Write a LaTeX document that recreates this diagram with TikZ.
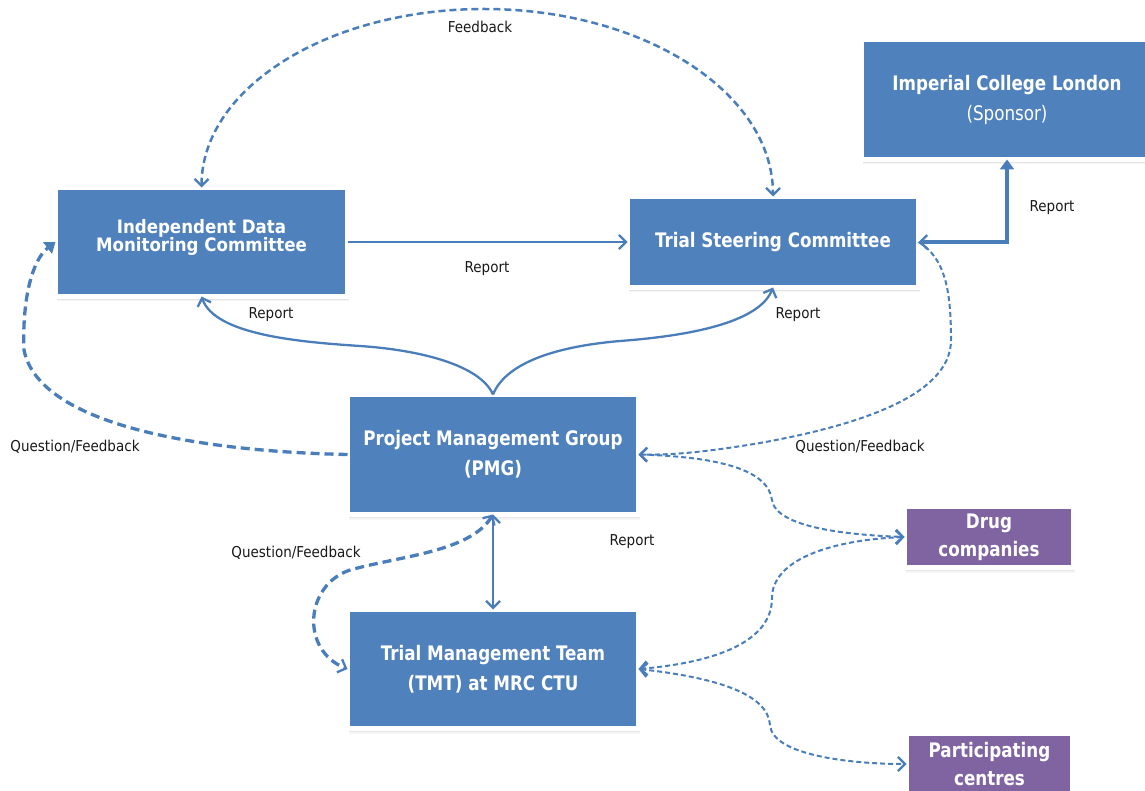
\documentclass[tikz,border=0pt]{standalone}
\usepackage{fontspec}
\setmainfont{DejaVu Sans Condensed}[BoldFont={DejaVu Sans Condensed Bold}]
\newfontfamily\bxfont{DejaVu Sans Condensed Bold}[FakeStretch=0.93]
\newfontfamily\bxwfont{DejaVu Sans Condensed Bold}
\newfontfamily\rgfont{DejaVu Sans Condensed}[FakeStretch=0.93]
\newfontfamily\lbfont{DejaVu Sans Condensed}
\usetikzlibrary{arrows.meta,shadows}
\definecolor{boxblue}{HTML}{4F81BD}
\definecolor{boxpurple}{HTML}{8064A2}
\definecolor{linkblue}{HTML}{4A7EBB}
\begin{document}
\begin{tikzpicture}[x=1pt,y=-1pt,
  box/.style={draw=white, line width=5pt, fill=boxblue, inner sep=0pt, outer sep=0pt,
    align=center, text=white, font=\bxfont\fontsize{20}{30}\selectfont,
    drop shadow={shadow xshift=1.5pt, shadow yshift=-5pt, opacity=0.08},
    drop shadow={shadow xshift=1pt, shadow yshift=-3.8pt, opacity=0.14},
    drop shadow={shadow xshift=0pt, shadow yshift=-0.5pt, shadow scale=1.012, opacity=0.08}},
  pbox/.style={box, fill=boxpurple, font=\bxfont\fontsize{20}{28}\selectfont},
  lbl/.style={font=\lbfont\fontsize{15}{18}\selectfont, text=black!90, inner sep=0pt},
  link/.style={draw=linkblue, line width=2.3pt},
  flink/.style={draw=linkblue, line width=2.5pt, dash pattern=on 7pt off 4pt},
  tlink/.style={draw=linkblue, line width=3.3pt, dash pattern=on 9pt off 5pt},
  slink/.style={draw=linkblue, line width=2pt, dash pattern=on 5pt off 3pt},
  barb/.tip={Straight Barb[length=7pt,width=14pt,line width=2.3pt]},
  tri/.tip={Triangle[length=10pt,width=14pt]}
]
\useasboundingbox (0,0) rectangle (1145,791);

% boxes
\node[box, minimum width=292pt, minimum height=109pt, font=\bxwfont\fontsize{18.5}{18}\selectfont] (idmc) at (201.5,242) {Independent Data\\Monitoring Committee\\[-5pt]};
\node[box, minimum width=291pt, minimum height=91pt] (tsc) at (773,242) {Trial Steering Committee};
\node[box, minimum width=291pt, minimum height=120pt] (imp) at (1007,99.5) {Imperial College London\\{\rgfont (Sponsor)}};
\node[box, minimum width=291pt, minimum height=120pt] (pmg) at (493,454.5) {Project Management Group\\(PMG)};
\node[box, minimum width=291pt, minimum height=119pt] (tmt) at (493,669) {Trial Management Team\\(TMT) at MRC CTU};
\node[pbox, minimum width=169pt, minimum height=61pt] (drug) at (989,537) {Drug\\companies};
\node[pbox, minimum width=166pt, minimum height=61pt] (part) at (989.5,764) {Participating\\centres};

\coordinate (fbtop) at (484,9);

% connectors
\draw[flink, {barb}-{barb}] (idmc.north) .. controls (202,88) and (328,9) .. (fbtop)
   .. controls (643,9) and (773,92) .. (tsc.north);
\draw[link, -{barb}] (idmc.east) -- (tsc.west);
\draw[link, line width=3.5pt, {barb}-{tri}] (tsc.east) -| (imp.south);
\draw[link, -{barb}] (pmg.north) .. controls (480,365) and (420,350) .. (360,346)
   .. controls (300,342) and (215,335) .. (idmc.south);
\draw[link, -{barb}] (pmg.north) .. controls (505,365) and (550,347) .. (620,341)
   .. controls (700,335) and (760,320) .. (tsc.south);
\draw[tlink, -{tri}] (pmg.west) .. controls (220,452) and (40,430) .. (24,350)
   .. controls (22,300) and (32,260) .. (idmc.west);
\draw[slink, -{barb}] (tsc.east) .. controls (945,258) and (951,290) .. (951,340)
   .. controls (951,395) and (860,425) .. (760,443)
   .. controls (700,453) and (670,455) .. (pmg.east);
\draw[slink, {barb}-{barb}] (pmg.east) .. controls (720,457) and (768,470) .. (772,500)
   .. controls (776,528) and (850,535) .. (drug.west);
\draw[link, {barb}-{barb}] (pmg.south) -- (tmt.north);
\draw[tlink, {barb}-{barb}] (pmg.south) .. controls (470,552) and (400,556) .. (350,570)
   .. controls (305,585) and (300,650) .. (tmt.west);
\draw[slink, {barb}-{barb}] (tmt.east) .. controls (720,662) and (772,640) .. (772,598)
   .. controls (772,560) and (830,540) .. (drug.west);
\draw[slink, {barb}-{barb}] (tmt.east) .. controls (720,678) and (768,695) .. (770,725)
   .. controls (772,755) and (850,764) .. (part.west);

% labels
\node[lbl] (l1) at (480,27) {Feedback};
\node[lbl] (l2) at (487,269) {Report};
\node[lbl] (l3) at (1052,208) {Report};
\node[lbl] (l4) at (271,315) {Report};
\node[lbl] (l5) at (798,315) {Report};
\node[lbl] (l6) at (75,447) {Question/Feedback};
\node[lbl] (l7) at (860,447) {Question/Feedback};
\node[lbl] (l8) at (296,553) {Question/Feedback};
\node[lbl] (l9) at (632,542) {Report};
\end{tikzpicture}
\end{document}
